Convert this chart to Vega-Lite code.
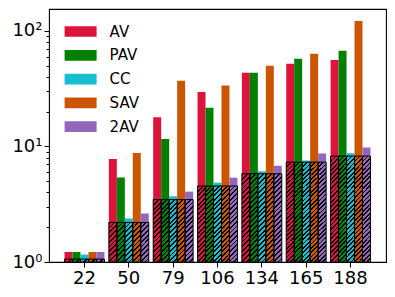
{
  "$schema": "https://vega.github.io/schema/vega-lite/v6.json",
  "width": 337,
  "height": 253,
  "autosize": {"type": "none"},
  "padding": {"left": 49, "top": 9, "right": 9, "bottom": 35},
  "config": {
    "view": {"stroke": "black", "strokeWidth": 1.1},
    "font": "DejaVu Sans",
    "axis": {"grid": false, "domain": false, "tickColor": "black", "labelColor": "black", "labelFont": "DejaVu Sans", "labelFontSize": 18, "title": null, "tickWidth": 1}
  },
  "data": {"values": [
    {"x": "22", "s": "AV", "v": 1.22, "h": 1.06},
    {"x": "22", "s": "PAV", "v": 1.22, "h": 1.06},
    {"x": "22", "s": "CC", "v": 1.16, "h": 1.06},
    {"x": "22", "s": "SAV", "v": 1.22, "h": 1.06},
    {"x": "22", "s": "2AV", "v": 1.22, "h": 1.06},
    {"x": "50", "s": "AV", "v": 7.8, "h": 2.2},
    {"x": "50", "s": "PAV", "v": 5.4, "h": 2.2},
    {"x": "50", "s": "CC", "v": 2.38, "h": 2.2},
    {"x": "50", "s": "SAV", "v": 8.8, "h": 2.2},
    {"x": "50", "s": "2AV", "v": 2.63, "h": 2.2},
    {"x": "79", "s": "AV", "v": 17.9, "h": 3.47},
    {"x": "79", "s": "PAV", "v": 11.6, "h": 3.47},
    {"x": "79", "s": "CC", "v": 3.7, "h": 3.47},
    {"x": "79", "s": "SAV", "v": 37, "h": 3.47},
    {"x": "79", "s": "2AV", "v": 4.07, "h": 3.47},
    {"x": "106", "s": "AV", "v": 29.6, "h": 4.55},
    {"x": "106", "s": "PAV", "v": 21.7, "h": 4.55},
    {"x": "106", "s": "CC", "v": 4.86, "h": 4.55},
    {"x": "106", "s": "SAV", "v": 33.8, "h": 4.55},
    {"x": "106", "s": "2AV", "v": 5.37, "h": 4.55},
    {"x": "134", "s": "AV", "v": 43.5, "h": 5.81},
    {"x": "134", "s": "PAV", "v": 43.5, "h": 5.81},
    {"x": "134", "s": "CC", "v": 6.1, "h": 5.81},
    {"x": "134", "s": "SAV", "v": 50, "h": 5.81},
    {"x": "134", "s": "2AV", "v": 6.8, "h": 5.81},
    {"x": "165", "s": "AV", "v": 52, "h": 7.32},
    {"x": "165", "s": "PAV", "v": 57.4, "h": 7.32},
    {"x": "165", "s": "CC", "v": 7.57, "h": 7.32},
    {"x": "165", "s": "SAV", "v": 63.4, "h": 7.32},
    {"x": "165", "s": "2AV", "v": 8.7, "h": 7.32},
    {"x": "188", "s": "AV", "v": 56.2, "h": 8.26},
    {"x": "188", "s": "PAV", "v": 67.3, "h": 8.26},
    {"x": "188", "s": "CC", "v": 8.75, "h": 8.26},
    {"x": "188", "s": "SAV", "v": 122, "h": 8.26},
    {"x": "188", "s": "2AV", "v": 9.8, "h": 8.26}
  ]},
  "encoding": {
    "x": {"field": "x", "type": "nominal", "sort": ["22", "50", "79", "106", "134", "165", "188"], "scale": {"paddingInner": 0.1, "paddingOuter": 0.35}, "axis": {"labelAngle": 0, "tickSize": 5, "labelPadding": 2}},
    "xOffset": {"field": "s", "type": "nominal", "sort": ["AV", "PAV", "CC", "SAV", "2AV"], "scale": {"paddingInner": 0, "paddingOuter": 0}}
  },
  "layer": [
    {
      "mark": {"type": "bar"},
      "encoding": {
        "y": {"field": "v", "type": "quantitative", "scale": {"type": "log", "domain": [1, 155], "nice": false}, "axis": {"values": [1, 2, 3, 4, 5, 6, 7, 8, 9, 10, 20, 30, 40, 50, 60, 70, 80, 90, 100], "labelExpr": "datum.value==1?'10⁰':datum.value==10?'10¹':datum.value==100?'10²':''", "labelOverlap": false, "labelPadding": 2, "tickSize": {"condition": {"test": "datum.value==1||datum.value==10||datum.value==100", "value": 5}, "value": 3}}},
        "y2": {"datum": 1},
        "fill": {"field": "s", "type": "nominal", "sort": ["AV", "PAV", "CC", "SAV", "2AV"], "scale": {"domain": ["AV", "PAV", "CC", "SAV", "2AV"], "range": ["#dc143c", "#008000", "#17becf", "#cc5500", "#9467bd"]}, "legend": {"orient": "none", "legendX": 20.6, "legendY": 11.5, "title": null, "symbolType": "M-1.5,-0.5H1.5V0.5H-1.5Z", "symbolSize": 455, "symbolStrokeWidth": 0, "symbolOpacity": 1, "labelFontSize": 15, "labelFont": "DejaVu Sans", "labelColor": "black", "labelOffset": 18, "rowPadding": 4.8, "padding": 0}}
      }
    },
    {
      "transform": [{"filter": "datum.x=='22'"}],
      "mark": {"type": "bar", "stroke": "black", "strokeWidth": 1, "fill": {"gradient": "linear", "x1": 0, "y1": 0, "x2": 1.2, "y2": 0.44, "stops": [
        {"offset": 0, "color": "#000"}, {"offset": 0.2, "color": "#000"}, {"offset": 0.2, "color": "rgba(0,0,0,0)"}, {"offset": 0.5, "color": "rgba(0,0,0,0)"},
        {"offset": 0.5, "color": "#000"}, {"offset": 0.7, "color": "#000"}, {"offset": 0.7, "color": "rgba(0,0,0,0)"}, {"offset": 1, "color": "rgba(0,0,0,0)"}
      ]}},
      "encoding": {"y": {"field": "h", "type": "quantitative"}, "y2": {"datum": 1}}
    },
    {
      "transform": [{"filter": "datum.x=='50'"}],
      "mark": {"type": "bar", "stroke": "black", "strokeWidth": 1, "fill": {"gradient": "linear", "x1": 0, "y1": 0, "x2": 0.234, "y2": 1.155, "stops": [
        {"offset": 0, "color": "#000"}, {"offset": 0.04, "color": "#000"}, {"offset": 0.04, "color": "rgba(0,0,0,0)"}, {"offset": 0.1, "color": "rgba(0,0,0,0)"},
        {"offset": 0.1, "color": "#000"}, {"offset": 0.14, "color": "#000"}, {"offset": 0.14, "color": "rgba(0,0,0,0)"}, {"offset": 0.2, "color": "rgba(0,0,0,0)"},
        {"offset": 0.2, "color": "#000"}, {"offset": 0.24, "color": "#000"}, {"offset": 0.24, "color": "rgba(0,0,0,0)"}, {"offset": 0.3, "color": "rgba(0,0,0,0)"},
        {"offset": 0.3, "color": "#000"}, {"offset": 0.34, "color": "#000"}, {"offset": 0.34, "color": "rgba(0,0,0,0)"}, {"offset": 0.4, "color": "rgba(0,0,0,0)"},
        {"offset": 0.4, "color": "#000"}, {"offset": 0.44, "color": "#000"}, {"offset": 0.44, "color": "rgba(0,0,0,0)"}, {"offset": 0.5, "color": "rgba(0,0,0,0)"},
        {"offset": 0.5, "color": "#000"}, {"offset": 0.54, "color": "#000"}, {"offset": 0.54, "color": "rgba(0,0,0,0)"}, {"offset": 0.6, "color": "rgba(0,0,0,0)"},
        {"offset": 0.6, "color": "#000"}, {"offset": 0.64, "color": "#000"}, {"offset": 0.64, "color": "rgba(0,0,0,0)"}, {"offset": 0.7, "color": "rgba(0,0,0,0)"},
        {"offset": 0.7, "color": "#000"}, {"offset": 0.74, "color": "#000"}, {"offset": 0.74, "color": "rgba(0,0,0,0)"}, {"offset": 0.8, "color": "rgba(0,0,0,0)"},
        {"offset": 0.8, "color": "#000"}, {"offset": 0.84, "color": "#000"}, {"offset": 0.84, "color": "rgba(0,0,0,0)"}, {"offset": 0.9, "color": "rgba(0,0,0,0)"},
        {"offset": 0.9, "color": "#000"}, {"offset": 0.94, "color": "#000"}, {"offset": 0.94, "color": "rgba(0,0,0,0)"}, {"offset": 1, "color": "rgba(0,0,0,0)"}
      ]}},
      "encoding": {"y": {"field": "h", "type": "quantitative"}, "y2": {"datum": 1}}
    },
    {
      "transform": [{"filter": "datum.x=='79'"}],
      "mark": {"type": "bar", "stroke": "black", "strokeWidth": 1, "fill": {"gradient": "linear", "x1": 0, "y1": 0, "x2": 0.1423, "y2": 1.11, "stops": [
        {"offset": 0, "color": "#000"}, {"offset": 0.0267, "color": "#000"}, {"offset": 0.0267, "color": "rgba(0,0,0,0)"}, {"offset": 0.0667, "color": "rgba(0,0,0,0)"},
        {"offset": 0.0667, "color": "#000"}, {"offset": 0.0933, "color": "#000"}, {"offset": 0.0933, "color": "rgba(0,0,0,0)"}, {"offset": 0.1333, "color": "rgba(0,0,0,0)"},
        {"offset": 0.1333, "color": "#000"}, {"offset": 0.16, "color": "#000"}, {"offset": 0.16, "color": "rgba(0,0,0,0)"}, {"offset": 0.2, "color": "rgba(0,0,0,0)"},
        {"offset": 0.2, "color": "#000"}, {"offset": 0.2267, "color": "#000"}, {"offset": 0.2267, "color": "rgba(0,0,0,0)"}, {"offset": 0.2667, "color": "rgba(0,0,0,0)"},
        {"offset": 0.2667, "color": "#000"}, {"offset": 0.2933, "color": "#000"}, {"offset": 0.2933, "color": "rgba(0,0,0,0)"}, {"offset": 0.3333, "color": "rgba(0,0,0,0)"},
        {"offset": 0.3333, "color": "#000"}, {"offset": 0.36, "color": "#000"}, {"offset": 0.36, "color": "rgba(0,0,0,0)"}, {"offset": 0.4, "color": "rgba(0,0,0,0)"},
        {"offset": 0.4, "color": "#000"}, {"offset": 0.4267, "color": "#000"}, {"offset": 0.4267, "color": "rgba(0,0,0,0)"}, {"offset": 0.4667, "color": "rgba(0,0,0,0)"},
        {"offset": 0.4667, "color": "#000"}, {"offset": 0.4933, "color": "#000"}, {"offset": 0.4933, "color": "rgba(0,0,0,0)"}, {"offset": 0.5333, "color": "rgba(0,0,0,0)"},
        {"offset": 0.5333, "color": "#000"}, {"offset": 0.56, "color": "#000"}, {"offset": 0.56, "color": "rgba(0,0,0,0)"}, {"offset": 0.6, "color": "rgba(0,0,0,0)"},
        {"offset": 0.6, "color": "#000"}, {"offset": 0.6267, "color": "#000"}, {"offset": 0.6267, "color": "rgba(0,0,0,0)"}, {"offset": 0.6667, "color": "rgba(0,0,0,0)"},
        {"offset": 0.6667, "color": "#000"}, {"offset": 0.6933, "color": "#000"}, {"offset": 0.6933, "color": "rgba(0,0,0,0)"}, {"offset": 0.7333, "color": "rgba(0,0,0,0)"},
        {"offset": 0.7333, "color": "#000"}, {"offset": 0.76, "color": "#000"}, {"offset": 0.76, "color": "rgba(0,0,0,0)"}, {"offset": 0.8, "color": "rgba(0,0,0,0)"},
        {"offset": 0.8, "color": "#000"}, {"offset": 0.8267, "color": "#000"}, {"offset": 0.8267, "color": "rgba(0,0,0,0)"}, {"offset": 0.8667, "color": "rgba(0,0,0,0)"},
        {"offset": 0.8667, "color": "#000"}, {"offset": 0.8933, "color": "#000"}, {"offset": 0.8933, "color": "rgba(0,0,0,0)"}, {"offset": 0.9333, "color": "rgba(0,0,0,0)"},
        {"offset": 0.9333, "color": "#000"}, {"offset": 0.96, "color": "#000"}, {"offset": 0.96, "color": "rgba(0,0,0,0)"}, {"offset": 1, "color": "rgba(0,0,0,0)"}
      ]}},
      "encoding": {"y": {"field": "h", "type": "quantitative"}, "y2": {"datum": 1}}
    },
    {
      "transform": [{"filter": "datum.x=='106'"}],
      "mark": {"type": "bar", "stroke": "black", "strokeWidth": 1, "fill": {"gradient": "linear", "x1": 0, "y1": 0, "x2": 0.115, "y2": 1.093, "stops": [
        {"offset": 0, "color": "#000"}, {"offset": 0.0222, "color": "#000"}, {"offset": 0.0222, "color": "rgba(0,0,0,0)"}, {"offset": 0.0556, "color": "rgba(0,0,0,0)"},
        {"offset": 0.0556, "color": "#000"}, {"offset": 0.0778, "color": "#000"}, {"offset": 0.0778, "color": "rgba(0,0,0,0)"}, {"offset": 0.1111, "color": "rgba(0,0,0,0)"},
        {"offset": 0.1111, "color": "#000"}, {"offset": 0.1333, "color": "#000"}, {"offset": 0.1333, "color": "rgba(0,0,0,0)"}, {"offset": 0.1667, "color": "rgba(0,0,0,0)"},
        {"offset": 0.1667, "color": "#000"}, {"offset": 0.1889, "color": "#000"}, {"offset": 0.1889, "color": "rgba(0,0,0,0)"}, {"offset": 0.2222, "color": "rgba(0,0,0,0)"},
        {"offset": 0.2222, "color": "#000"}, {"offset": 0.2444, "color": "#000"}, {"offset": 0.2444, "color": "rgba(0,0,0,0)"}, {"offset": 0.2778, "color": "rgba(0,0,0,0)"},
        {"offset": 0.2778, "color": "#000"}, {"offset": 0.3, "color": "#000"}, {"offset": 0.3, "color": "rgba(0,0,0,0)"}, {"offset": 0.3333, "color": "rgba(0,0,0,0)"},
        {"offset": 0.3333, "color": "#000"}, {"offset": 0.3556, "color": "#000"}, {"offset": 0.3556, "color": "rgba(0,0,0,0)"}, {"offset": 0.3889, "color": "rgba(0,0,0,0)"},
        {"offset": 0.3889, "color": "#000"}, {"offset": 0.4111, "color": "#000"}, {"offset": 0.4111, "color": "rgba(0,0,0,0)"}, {"offset": 0.4444, "color": "rgba(0,0,0,0)"},
        {"offset": 0.4444, "color": "#000"}, {"offset": 0.4667, "color": "#000"}, {"offset": 0.4667, "color": "rgba(0,0,0,0)"}, {"offset": 0.5, "color": "rgba(0,0,0,0)"},
        {"offset": 0.5, "color": "#000"}, {"offset": 0.5222, "color": "#000"}, {"offset": 0.5222, "color": "rgba(0,0,0,0)"}, {"offset": 0.5556, "color": "rgba(0,0,0,0)"},
        {"offset": 0.5556, "color": "#000"}, {"offset": 0.5778, "color": "#000"}, {"offset": 0.5778, "color": "rgba(0,0,0,0)"}, {"offset": 0.6111, "color": "rgba(0,0,0,0)"},
        {"offset": 0.6111, "color": "#000"}, {"offset": 0.6333, "color": "#000"}, {"offset": 0.6333, "color": "rgba(0,0,0,0)"}, {"offset": 0.6667, "color": "rgba(0,0,0,0)"},
        {"offset": 0.6667, "color": "#000"}, {"offset": 0.6889, "color": "#000"}, {"offset": 0.6889, "color": "rgba(0,0,0,0)"}, {"offset": 0.7222, "color": "rgba(0,0,0,0)"},
        {"offset": 0.7222, "color": "#000"}, {"offset": 0.7444, "color": "#000"}, {"offset": 0.7444, "color": "rgba(0,0,0,0)"}, {"offset": 0.7778, "color": "rgba(0,0,0,0)"},
        {"offset": 0.7778, "color": "#000"}, {"offset": 0.8, "color": "#000"}, {"offset": 0.8, "color": "rgba(0,0,0,0)"}, {"offset": 0.8333, "color": "rgba(0,0,0,0)"},
        {"offset": 0.8333, "color": "#000"}, {"offset": 0.8556, "color": "#000"}, {"offset": 0.8556, "color": "rgba(0,0,0,0)"}, {"offset": 0.8889, "color": "rgba(0,0,0,0)"},
        {"offset": 0.8889, "color": "#000"}, {"offset": 0.9111, "color": "#000"}, {"offset": 0.9111, "color": "rgba(0,0,0,0)"}, {"offset": 0.9444, "color": "rgba(0,0,0,0)"},
        {"offset": 0.9444, "color": "#000"}, {"offset": 0.9667, "color": "#000"}, {"offset": 0.9667, "color": "rgba(0,0,0,0)"}, {"offset": 1, "color": "rgba(0,0,0,0)"}
      ]}},
      "encoding": {"y": {"field": "h", "type": "quantitative"}, "y2": {"datum": 1}}
    },
    {
      "transform": [{"filter": "datum.x=='134'"}],
      "mark": {"type": "bar", "stroke": "black", "strokeWidth": 1, "fill": {"gradient": "linear", "x1": 0, "y1": 0, "x2": 0.098, "y2": 1.082, "stops": [
        {"offset": 0, "color": "#000"}, {"offset": 0.02, "color": "#000"}, {"offset": 0.02, "color": "rgba(0,0,0,0)"}, {"offset": 0.05, "color": "rgba(0,0,0,0)"},
        {"offset": 0.05, "color": "#000"}, {"offset": 0.07, "color": "#000"}, {"offset": 0.07, "color": "rgba(0,0,0,0)"}, {"offset": 0.1, "color": "rgba(0,0,0,0)"},
        {"offset": 0.1, "color": "#000"}, {"offset": 0.12, "color": "#000"}, {"offset": 0.12, "color": "rgba(0,0,0,0)"}, {"offset": 0.15, "color": "rgba(0,0,0,0)"},
        {"offset": 0.15, "color": "#000"}, {"offset": 0.17, "color": "#000"}, {"offset": 0.17, "color": "rgba(0,0,0,0)"}, {"offset": 0.2, "color": "rgba(0,0,0,0)"},
        {"offset": 0.2, "color": "#000"}, {"offset": 0.22, "color": "#000"}, {"offset": 0.22, "color": "rgba(0,0,0,0)"}, {"offset": 0.25, "color": "rgba(0,0,0,0)"},
        {"offset": 0.25, "color": "#000"}, {"offset": 0.27, "color": "#000"}, {"offset": 0.27, "color": "rgba(0,0,0,0)"}, {"offset": 0.3, "color": "rgba(0,0,0,0)"},
        {"offset": 0.3, "color": "#000"}, {"offset": 0.32, "color": "#000"}, {"offset": 0.32, "color": "rgba(0,0,0,0)"}, {"offset": 0.35, "color": "rgba(0,0,0,0)"},
        {"offset": 0.35, "color": "#000"}, {"offset": 0.37, "color": "#000"}, {"offset": 0.37, "color": "rgba(0,0,0,0)"}, {"offset": 0.4, "color": "rgba(0,0,0,0)"},
        {"offset": 0.4, "color": "#000"}, {"offset": 0.42, "color": "#000"}, {"offset": 0.42, "color": "rgba(0,0,0,0)"}, {"offset": 0.45, "color": "rgba(0,0,0,0)"},
        {"offset": 0.45, "color": "#000"}, {"offset": 0.47, "color": "#000"}, {"offset": 0.47, "color": "rgba(0,0,0,0)"}, {"offset": 0.5, "color": "rgba(0,0,0,0)"},
        {"offset": 0.5, "color": "#000"}, {"offset": 0.52, "color": "#000"}, {"offset": 0.52, "color": "rgba(0,0,0,0)"}, {"offset": 0.55, "color": "rgba(0,0,0,0)"},
        {"offset": 0.55, "color": "#000"}, {"offset": 0.57, "color": "#000"}, {"offset": 0.57, "color": "rgba(0,0,0,0)"}, {"offset": 0.6, "color": "rgba(0,0,0,0)"},
        {"offset": 0.6, "color": "#000"}, {"offset": 0.62, "color": "#000"}, {"offset": 0.62, "color": "rgba(0,0,0,0)"}, {"offset": 0.65, "color": "rgba(0,0,0,0)"},
        {"offset": 0.65, "color": "#000"}, {"offset": 0.67, "color": "#000"}, {"offset": 0.67, "color": "rgba(0,0,0,0)"}, {"offset": 0.7, "color": "rgba(0,0,0,0)"},
        {"offset": 0.7, "color": "#000"}, {"offset": 0.72, "color": "#000"}, {"offset": 0.72, "color": "rgba(0,0,0,0)"}, {"offset": 0.75, "color": "rgba(0,0,0,0)"},
        {"offset": 0.75, "color": "#000"}, {"offset": 0.77, "color": "#000"}, {"offset": 0.77, "color": "rgba(0,0,0,0)"}, {"offset": 0.8, "color": "rgba(0,0,0,0)"},
        {"offset": 0.8, "color": "#000"}, {"offset": 0.82, "color": "#000"}, {"offset": 0.82, "color": "rgba(0,0,0,0)"}, {"offset": 0.85, "color": "rgba(0,0,0,0)"},
        {"offset": 0.85, "color": "#000"}, {"offset": 0.87, "color": "#000"}, {"offset": 0.87, "color": "rgba(0,0,0,0)"}, {"offset": 0.9, "color": "rgba(0,0,0,0)"},
        {"offset": 0.9, "color": "#000"}, {"offset": 0.92, "color": "#000"}, {"offset": 0.92, "color": "rgba(0,0,0,0)"}, {"offset": 0.95, "color": "rgba(0,0,0,0)"},
        {"offset": 0.95, "color": "#000"}, {"offset": 0.97, "color": "#000"}, {"offset": 0.97, "color": "rgba(0,0,0,0)"}, {"offset": 1, "color": "rgba(0,0,0,0)"}
      ]}},
      "encoding": {"y": {"field": "h", "type": "quantitative"}, "y2": {"datum": 1}}
    },
    {
      "transform": [{"filter": "datum.x=='165' || datum.x=='188'"}],
      "mark": {"type": "bar", "stroke": "black", "strokeWidth": 1, "fill": {"gradient": "linear", "x1": 0, "y1": 0, "x2": 0.083, "y2": 1.071, "stops": [
        {"offset": 0, "color": "#000"}, {"offset": 0.016, "color": "#000"}, {"offset": 0.016, "color": "rgba(0,0,0,0)"}, {"offset": 0.04, "color": "rgba(0,0,0,0)"},
        {"offset": 0.04, "color": "#000"}, {"offset": 0.056, "color": "#000"}, {"offset": 0.056, "color": "rgba(0,0,0,0)"}, {"offset": 0.08, "color": "rgba(0,0,0,0)"},
        {"offset": 0.08, "color": "#000"}, {"offset": 0.096, "color": "#000"}, {"offset": 0.096, "color": "rgba(0,0,0,0)"}, {"offset": 0.12, "color": "rgba(0,0,0,0)"},
        {"offset": 0.12, "color": "#000"}, {"offset": 0.136, "color": "#000"}, {"offset": 0.136, "color": "rgba(0,0,0,0)"}, {"offset": 0.16, "color": "rgba(0,0,0,0)"},
        {"offset": 0.16, "color": "#000"}, {"offset": 0.176, "color": "#000"}, {"offset": 0.176, "color": "rgba(0,0,0,0)"}, {"offset": 0.2, "color": "rgba(0,0,0,0)"},
        {"offset": 0.2, "color": "#000"}, {"offset": 0.216, "color": "#000"}, {"offset": 0.216, "color": "rgba(0,0,0,0)"}, {"offset": 0.24, "color": "rgba(0,0,0,0)"},
        {"offset": 0.24, "color": "#000"}, {"offset": 0.256, "color": "#000"}, {"offset": 0.256, "color": "rgba(0,0,0,0)"}, {"offset": 0.28, "color": "rgba(0,0,0,0)"},
        {"offset": 0.28, "color": "#000"}, {"offset": 0.296, "color": "#000"}, {"offset": 0.296, "color": "rgba(0,0,0,0)"}, {"offset": 0.32, "color": "rgba(0,0,0,0)"},
        {"offset": 0.32, "color": "#000"}, {"offset": 0.336, "color": "#000"}, {"offset": 0.336, "color": "rgba(0,0,0,0)"}, {"offset": 0.36, "color": "rgba(0,0,0,0)"},
        {"offset": 0.36, "color": "#000"}, {"offset": 0.376, "color": "#000"}, {"offset": 0.376, "color": "rgba(0,0,0,0)"}, {"offset": 0.4, "color": "rgba(0,0,0,0)"},
        {"offset": 0.4, "color": "#000"}, {"offset": 0.416, "color": "#000"}, {"offset": 0.416, "color": "rgba(0,0,0,0)"}, {"offset": 0.44, "color": "rgba(0,0,0,0)"},
        {"offset": 0.44, "color": "#000"}, {"offset": 0.456, "color": "#000"}, {"offset": 0.456, "color": "rgba(0,0,0,0)"}, {"offset": 0.48, "color": "rgba(0,0,0,0)"},
        {"offset": 0.48, "color": "#000"}, {"offset": 0.496, "color": "#000"}, {"offset": 0.496, "color": "rgba(0,0,0,0)"}, {"offset": 0.52, "color": "rgba(0,0,0,0)"},
        {"offset": 0.52, "color": "#000"}, {"offset": 0.536, "color": "#000"}, {"offset": 0.536, "color": "rgba(0,0,0,0)"}, {"offset": 0.56, "color": "rgba(0,0,0,0)"},
        {"offset": 0.56, "color": "#000"}, {"offset": 0.576, "color": "#000"}, {"offset": 0.576, "color": "rgba(0,0,0,0)"}, {"offset": 0.6, "color": "rgba(0,0,0,0)"},
        {"offset": 0.6, "color": "#000"}, {"offset": 0.616, "color": "#000"}, {"offset": 0.616, "color": "rgba(0,0,0,0)"}, {"offset": 0.64, "color": "rgba(0,0,0,0)"},
        {"offset": 0.64, "color": "#000"}, {"offset": 0.656, "color": "#000"}, {"offset": 0.656, "color": "rgba(0,0,0,0)"}, {"offset": 0.68, "color": "rgba(0,0,0,0)"},
        {"offset": 0.68, "color": "#000"}, {"offset": 0.696, "color": "#000"}, {"offset": 0.696, "color": "rgba(0,0,0,0)"}, {"offset": 0.72, "color": "rgba(0,0,0,0)"},
        {"offset": 0.72, "color": "#000"}, {"offset": 0.736, "color": "#000"}, {"offset": 0.736, "color": "rgba(0,0,0,0)"}, {"offset": 0.76, "color": "rgba(0,0,0,0)"},
        {"offset": 0.76, "color": "#000"}, {"offset": 0.776, "color": "#000"}, {"offset": 0.776, "color": "rgba(0,0,0,0)"}, {"offset": 0.8, "color": "rgba(0,0,0,0)"},
        {"offset": 0.8, "color": "#000"}, {"offset": 0.816, "color": "#000"}, {"offset": 0.816, "color": "rgba(0,0,0,0)"}, {"offset": 0.84, "color": "rgba(0,0,0,0)"},
        {"offset": 0.84, "color": "#000"}, {"offset": 0.856, "color": "#000"}, {"offset": 0.856, "color": "rgba(0,0,0,0)"}, {"offset": 0.88, "color": "rgba(0,0,0,0)"},
        {"offset": 0.88, "color": "#000"}, {"offset": 0.896, "color": "#000"}, {"offset": 0.896, "color": "rgba(0,0,0,0)"}, {"offset": 0.92, "color": "rgba(0,0,0,0)"},
        {"offset": 0.92, "color": "#000"}, {"offset": 0.936, "color": "#000"}, {"offset": 0.936, "color": "rgba(0,0,0,0)"}, {"offset": 0.96, "color": "rgba(0,0,0,0)"},
        {"offset": 0.96, "color": "#000"}, {"offset": 0.976, "color": "#000"}, {"offset": 0.976, "color": "rgba(0,0,0,0)"}, {"offset": 1, "color": "rgba(0,0,0,0)"}
      ]}},
      "encoding": {"y": {"field": "h", "type": "quantitative"}, "y2": {"datum": 1}}
    }
  ]
}
